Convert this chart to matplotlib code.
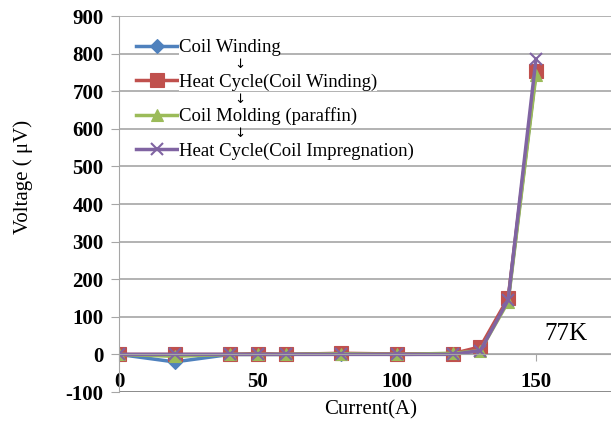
import matplotlib.pyplot as plt

plt.rcParams['font.family'] = ['Liberation Serif', 'DejaVu Serif']
plt.rcParams['axes.unicode_minus'] = False

current = [0, 20, 40, 50, 60, 80, 100, 120, 130, 140, 150]

coil_winding = [0, -20, 0, 0, 0, 2, 0, 1, 15, 145, 750]
heat_cycle_winding = [0, 0, 0, 2, 0, 3, 1, 2, 20, 150, 755]
coil_molding = [0, -5, 0, 0, 0, 2, 0, 3, 10, 140, 742]
heat_cycle_impreg = [0, 0, 0, 0, 0, 0, 0, 0, 10, 145, 785]

labels = ['Coil Winding', 'Heat Cycle(Coil Winding)',
          'Coil Molding (paraffin)', 'Heat Cycle(Coil Impregnation)']
colors = ['#4F81BD', '#C0504D', '#9BBB59', '#8064A2']
markers = ['D', 's', '^', 'x']
sizes = [7, 10, 8, 9]

yticks = list(range(-100, 1000, 100))
xticks = [0, 50, 100, 150]

fig = plt.figure(figsize=(6.11, 4.21), dpi=100)
ax = fig.add_axes([119 / 611, 29 / 421, 492 / 611, 376 / 421])

series = [coil_winding, heat_cycle_winding, coil_molding, heat_cycle_impreg]
for vals, lab, c, m, s in zip(series, labels, colors, markers, sizes):
    ax.plot(current, vals, color=c, marker=m, markersize=s, linewidth=2.5,
            label=lab, markeredgewidth=1.5 if m == 'x' else 0.8)

ax.set_xlim(0, 177)
ax.set_ylim(-100, 900)
ax.set_yticks(yticks)
ax.set_xticks(xticks)

# gridlines; the lowest one is the darker plot-area border
for y in yticks:
    if y == -100:
        ax.axhline(y, color='#808080', linewidth=2, zorder=0)
    else:
        ax.axhline(y, color='#a6a6a6', linewidth=1.2, zorder=0)

ax.spines['right'].set_visible(False)
ax.spines['top'].set_visible(False)
ax.spines['left'].set_color('#a6a6a6')
ax.spines['bottom'].set_position(('data', 0))
ax.spines['bottom'].set_color('#a6a6a6')
ax.tick_params(axis='y', length=6, color='#a6a6a6', labelsize=15, pad=5)
ax.tick_params(axis='x', length=5, color='#a6a6a6', labelsize=15, pad=8)
for t in ax.get_xticklabels() + ax.get_yticklabels():
    t.set_fontweight('bold')

ax.set_xlabel('Current(A)', fontsize=15)
ax.xaxis.set_label_coords(0.512, -0.022)
ax.set_ylabel('Voltage ( μV)', fontsize=15)
ax.yaxis.set_label_coords(-0.175, 0.572)

ax.text(0.865, 0.155, '77K', transform=ax.transAxes, fontsize=18, va='center')

leg = ax.legend(loc='upper left', bbox_to_anchor=(0.02, 0.958), frameon=False,
                fontsize=13.5, handlelength=2.2, handletextpad=0.05,
                labelspacing=0.9, borderaxespad=0)
for t in leg.get_texts():
    t.set_bbox(dict(facecolor='white', edgecolor='none', pad=0))

# arrows between the legend entries, centred in the gaps
fig.canvas.draw()
boxes = [t.get_window_extent() for t in leg.get_texts()]
inv = ax.transAxes.inverted()
for upper, lower in zip(boxes[:-1], boxes[1:]):
    mid = (upper.y0 + lower.y1) / 2
    ya = inv.transform((0, mid))[1]
    ax.text(0.246, ya, '↓', transform=ax.transAxes, fontsize=9.5,
            family='DejaVu Sans', ha='center', va='center')

fig.savefig('out.png', dpi=100)
